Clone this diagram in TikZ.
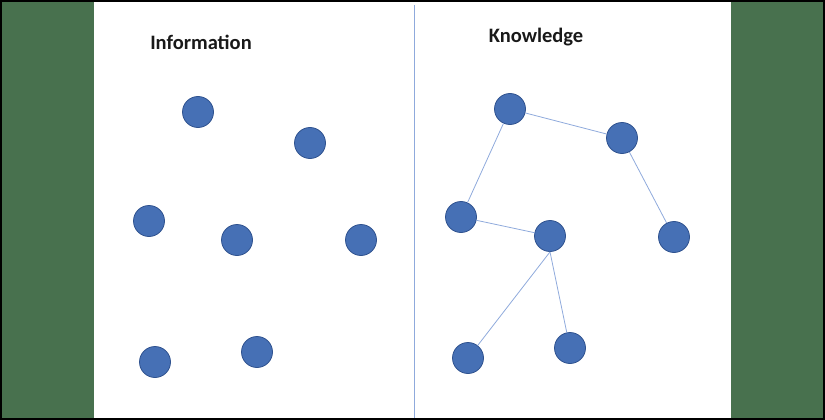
\documentclass[tikz,border=0pt]{standalone}
\usepackage{fontspec}
\setmainfont{Carlito}
\usepackage{tikz}
\usepackage{xcolor}
\usetikzlibrary{positioning}

\definecolor{bandgreen}{HTML}{48714E}
\definecolor{dotblue}{HTML}{4670B5}
\definecolor{dotedge}{HTML}{2F528F}
\definecolor{linkblue}{HTML}{8FAADC}

\begin{document}
\begin{tikzpicture}[x=1pt,y=-1pt,
  dot/.style={circle,fill=dotblue,draw=dotedge,line width=0.8pt,minimum size=31pt,inner sep=0pt},
  link/.style={linkblue,line width=0.8pt},
  heading/.style={font=\bfseries\fontsize{20.5}{24}\selectfont,text=black!90}]
\useasboundingbox (0,0) rectangle (825,420);
\fill[bandgreen] (0,0) rectangle (94,420);
\fill[bandgreen] (731,0) rectangle (825,420);
\draw[linkblue,line width=1pt] (414.5,5) -- (414.5,420);
\draw[black,line width=1.6pt] (0.8,0.8) rectangle (824.2,419.2);

% information side
\node[heading] (info) at (201,42) {Information};
\node[dot] (i1) at (198,112) {};
\node[dot] (i2) at (310,143) {};
\node[dot] (i3) at (149,221) {};
\node[dot] (i4) at (237,240) {};
\node[dot] (i5) at (361,240) {};
\node[dot] (i6) at (155,362) {};
\node[dot] (i7) at (257,352) {};

% knowledge side
\node[heading] (know) at (536,37) {Knowledge};
\node[dot] (k1) at (510,109) {};
\node[dot] (k2) at (622,138) {};
\node[dot] (k3) at (461,217) {};
\node[dot] (k4) at (550,236) {};
\node[dot] (k5) at (674,237) {};
\node[dot] (k6) at (468,358) {};
\node[dot] (k7) at (570,348) {};

\draw[link] (k1) -- (k2);
\draw[link] (k1) -- (k3);
\draw[link] (k3) -- (k4);
\draw[link] (k2) -- (k5);
\draw[link] (k4.south) -- (k6);
\draw[link] (k4.south) -- (k7);
\end{tikzpicture}
\end{document}
